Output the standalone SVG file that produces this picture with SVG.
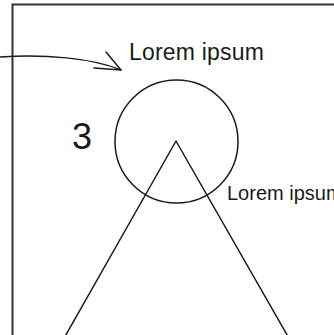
<svg xmlns="http://www.w3.org/2000/svg" width="334" height="335" viewBox="0 0 334 335">
<style>
.ln{fill:none;stroke:#1a1a1a;stroke-width:1.5;stroke-linecap:round;stroke-linejoin:round}
.fr{fill:none;stroke:#333;stroke-width:2}
.t{font-family:"Liberation Sans",Arial,sans-serif;fill:#1a1a1a}
</style>
<rect width="334" height="335" fill="#fff"/>
<g id="frame"><path class="fr" d="M12.5,340 V4.5 H340"/></g>
<g id="circle"><circle class="ln" cx="176.5" cy="141.5" r="61.5"/></g>
<g id="triangle"><path class="ln" d="M63,340 L176,141 L290,340"/></g>
<g id="label-top"><text class="t" x="129" y="60" font-size="23" letter-spacing="0.2">Lorem ipsum</text></g>
<g id="label-3"><text class="t" x="72" y="149" font-size="36">3</text></g>
<g id="label-right"><text class="t" x="227" y="200" font-size="20">Lorem ipsum</text></g>
<g id="connectors">
<path class="ln" stroke-width="2" d="M0,57 C45,54 92,58 121,70"/>
<path class="ln" stroke-width="2" d="M106,52 L121,70 L94,68"/>
</g>
</svg>
